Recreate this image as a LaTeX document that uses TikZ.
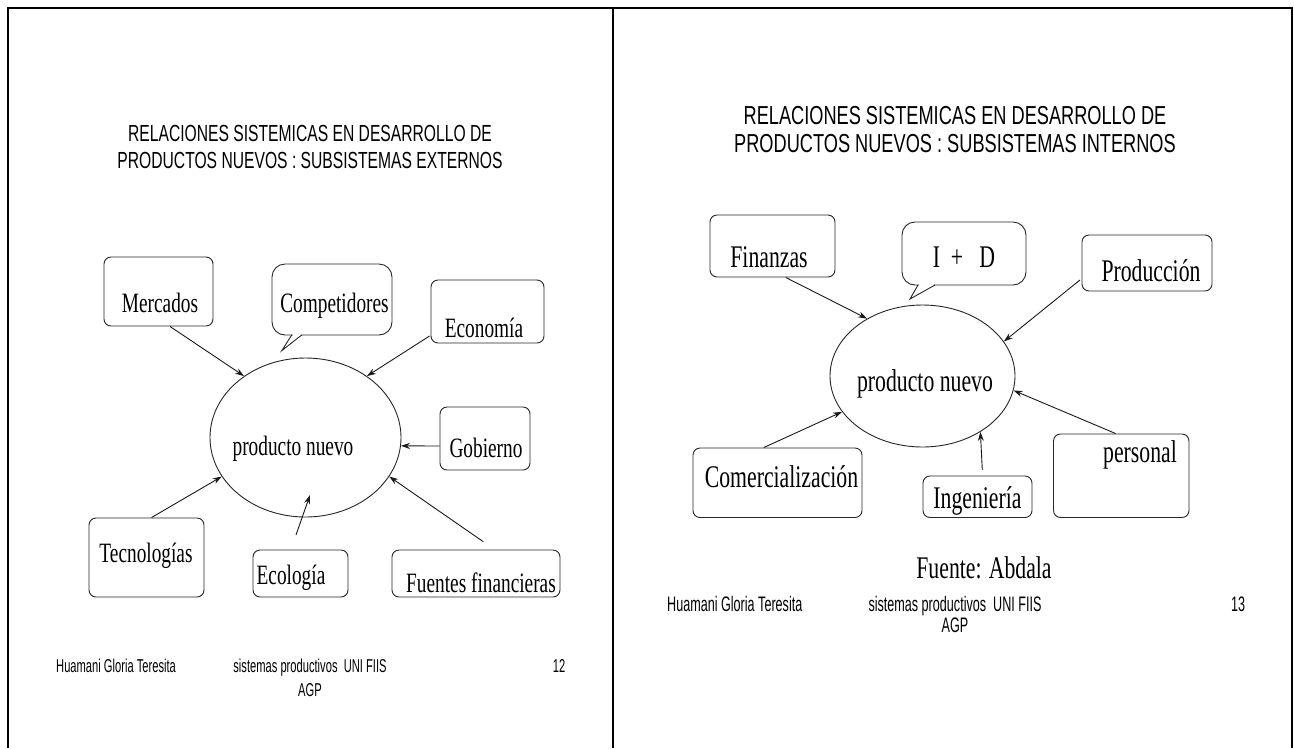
\documentclass[tikz,border=0pt]{standalone}
\usepackage{fontspec}
\usetikzlibrary{shapes.geometric,arrows.meta,calc}
\newfontfamily\ttlA[FakeStretch=0.672]{Liberation Sans}
\newfontfamily\ttlB[FakeStretch=0.70]{Liberation Sans}
\newfontfamily\ftrF[FakeStretch=0.60]{Liberation Sans}
\newfontfamily\serF[FakeStretch=0.69]{Liberation Serif}
\begin{document}
\begin{tikzpicture}[x=1pt,y=-1pt,
  box/.style={draw=black!85, line width=0.9pt, rounded corners=7pt, inner sep=0pt},
  cbox/.style={box, rounded corners=13pt},
  oval/.style={draw=black!85, line width=0.9pt, ellipse, inner sep=0pt},
  arr/.style={draw=black!90, line width=0.9pt, -{Stealth[length=9pt,width=6pt]}},
  tail/.style={draw=black!85, line width=0.9pt, line join=miter},
  frame/.style={line width=2pt},
  lblL/.style={font=\serF\fontsize{28}{30}\selectfont, inner sep=0pt, anchor=base},
  lblR/.style={font=\serF\fontsize{31.5}{34}\selectfont, inner sep=0pt, anchor=base},
  ttlL/.style={font=\ttlA\fontsize{23.3}{26}\selectfont, inner sep=0pt, anchor=base},
  ttlR/.style={font=\ttlB\fontsize{26}{28}\selectfont, inner sep=0pt, anchor=base},
  ftL/.style={font=\ftrF\fontsize{18.6}{20}\selectfont, inner sep=0pt, anchor=base},
  ftR/.style={font=\ftrF\fontsize{21}{23}\selectfont, inner sep=0pt, anchor=base}]
\useasboundingbox[fill=white] (0,0) rectangle (1294,748);
% frame
\draw[frame] (8,748) -- (8,7.5) -- (1292,7.5) -- (1292,748);
\draw[frame] (613,7.5) -- (613,748);

% ================= LEFT PANEL =================
\node[ttlL] (tl1) at (310,141.5) {RELACIONES SISTEMICAS EN DESARROLLO DE};
\node[ttlL] (tl2) at (310,168.5) {PRODUCTOS NUEVOS : SUBSISTEMAS EXTERNOS};

\node[box, minimum width=109pt, minimum height=69pt] (merc) at (158.5,291.5) {};
\node[cbox, minimum width=120pt, minimum height=71pt] (comp) at (332,299.5) {};
\node[box, minimum width=113pt, minimum height=63pt] (econ) at (487.5,311.5) {};
\node[box, minimum width=90pt, minimum height=63pt] (gob) at (485,438.5) {};
\node[box, minimum width=115pt, minimum height=79pt] (tec) at (146.5,557.5) {};
\node[box, minimum width=95pt, minimum height=47pt] (eco) at (300.5,573.5) {};
\node[box, minimum width=168pt, minimum height=47pt] (fue) at (476,573.5) {};
\node[oval, minimum width=191pt, minimum height=159pt] (pn) at (305.5,437.5) {};

% callout tail
\fill[white] (292.6,333) rectangle (300.8,337.5);
\draw[tail] (291.7,335) -- (281.7,350.7) -- (301.7,335);

\node[lblL] (tmerc) at (160,312) {Mercados};
\node[lblL] (tcomp) at (334.5,312) {Competidores};
\node[lblL] (tecon) at (484,337) {Economía};
\node[lblL] (tpn) at (293,455) {producto nuevo};
\node[lblL] (tgob) at (486,457) {Gobierno};
\node[lblL] (ttec) at (146,562) {Tecnologías};
\node[lblL] (teco) at (291,584) {Ecología};
\node[lblL] (tfue) at (481,592) {Fuentes financieras};

\coordinate (ecoS) at (296,535);
\coordinate (ecoE) at (310,495);
\coordinate (fueS) at (483.3,541.7);
\draw[arr] ([xshift=11.5pt]merc.south) -- (pn.135);
\draw[arr] ([xshift=-1pt,yshift=-24.5pt]econ.west) -- (pn.45);
\draw[arr] ([yshift=-7.5pt]gob.west) -- (pn.-5);
\draw[arr] ([xshift=5pt]tec.north) -- (pn.205);
\draw[arr] (ecoS) -- (ecoE);
\draw[arr] (fueS) -- (pn.-25);

\node[ftL, anchor=base west] (fl1) at (56,672.6) {Huamani Gloria Teresita};
\node[ftL] (fl2) at (310,672.6) {sistemas productivos\ \ UNI FIIS};
\node[ftL] (fl3) at (310,696.4) {AGP};
\node[ftL] (fl4) at (559,672.6) {12};

% ================= RIGHT PANEL =================
\node[ttlR] (tr1) at (955,124) {RELACIONES SISTEMICAS EN DESARROLLO DE};
\node[ttlR] (tr2) at (955,152.5) {PRODUCTOS NUEVOS : SUBSISTEMAS INTERNOS};

\node[box, minimum width=125pt, minimum height=62pt] (fin) at (772.5,246) {};
\node[cbox, minimum width=124pt, minimum height=63pt] (ipd) at (964,253.5) {};
\node[box, minimum width=130pt, minimum height=56pt] (prod) at (1147,263) {};
\node[oval, minimum width=185pt, minimum height=142pt] (pn2) at (922.5,376) {};
\node[box, minimum width=169pt, minimum height=69.5pt] (com) at (777.5,482.75) {};
\node[box, minimum width=109pt, minimum height=41.5pt] (ing) at (977.5,496.75) {};
\node[box, minimum width=135.5pt, minimum height=83.5pt] (pers) at (1121.25,475.75) {};

% callout tail
\fill[white] (918.9,283) rectangle (934.1,287.5);
\draw[tail] (918,285) -- (910,299) -- (935,285);

\node[lblR] (tfin) at (769,267) {Finanzas};
\node[lblR] (tipd) at (964,267) {I\ \ +\ \ \ D};
\node[lblR] (tprod) at (1151,281) {Producción};
\node[lblR] (tpn2) at (925,391) {producto nuevo};
\node[lblR] (tcom) at (781.5,487.5) {Comercialización};
\node[lblR] (ting) at (977.5,508) {Ingeniería};
\node[lblR] (tpers) at (1140,462.5) {personal};
\node[lblR] (tfte) at (984,578) {Fuente: Abdala};

\coordinate (ingS) at (982.3,470);
\draw[arr] ([xshift=13.2pt]fin.south) -- (pn2.134);
\draw[arr] ([xshift=-1.6pt,yshift=-17pt]prod.west) -- (pn2.23.5);
\draw[arr] ([xshift=-13.7pt]com.north) -- (pn2.204);
\draw[arr] (ingS) -- (pn2.-44);
\draw[arr] ([xshift=-5.6pt]pers.north) -- (pn2.-9.6);

\node[ftR, anchor=base west] (fr1) at (667,611.5) {Huamani Gloria Teresita};
\node[ftR] (fr2) at (955,611.5) {sistemas productivos\ \ UNI FIIS};
\node[ftR] (fr3) at (955,632) {AGP};
\node[ftR] (fr4) at (1238,611.5) {13};
\end{tikzpicture}
\end{document}
